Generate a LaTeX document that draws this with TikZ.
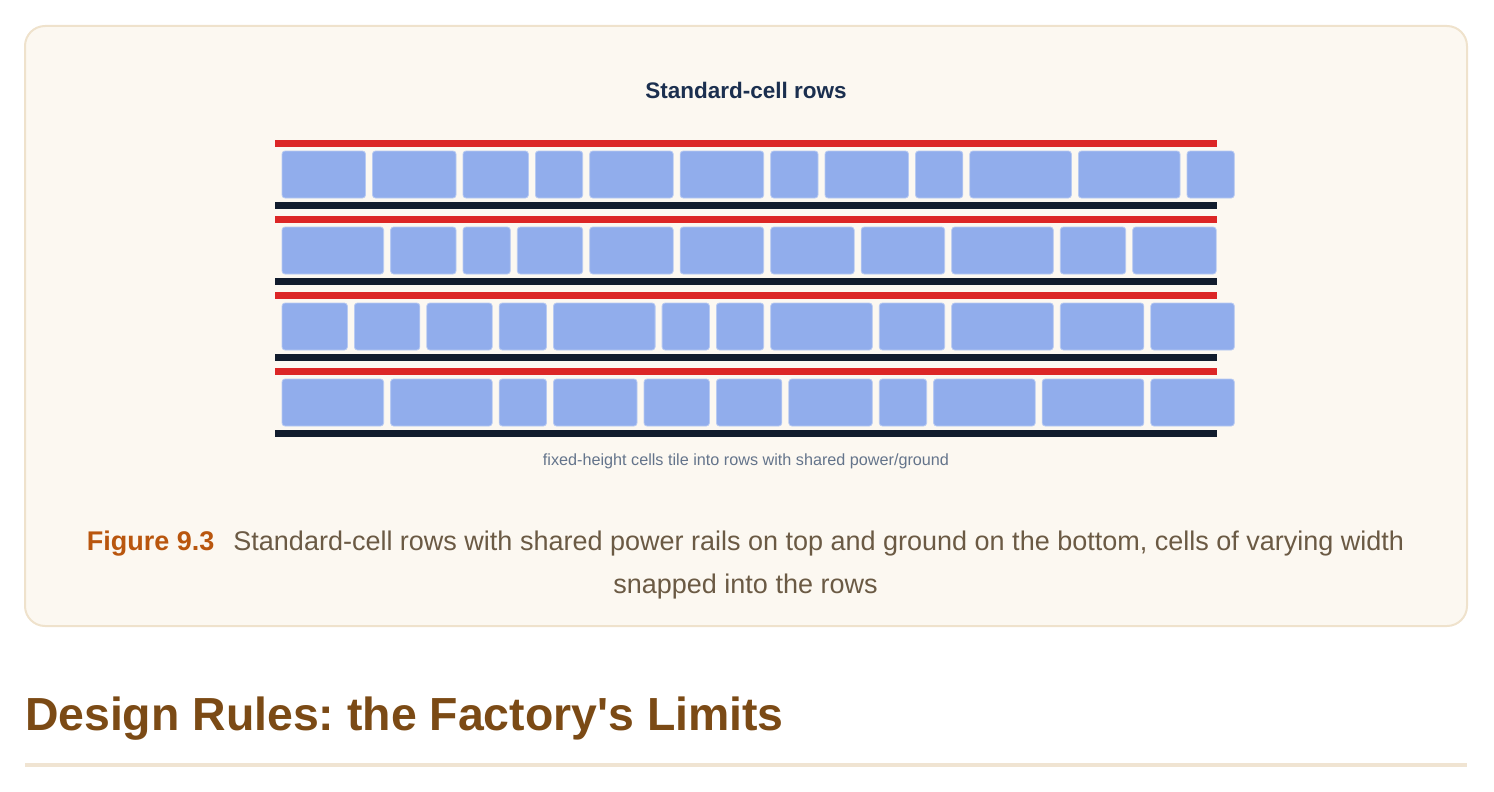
\documentclass[tikz,border=0pt]{standalone}
\usepackage{fontspec}
\setmainfont{Liberation Sans}[Ligatures=TeXOff]

\definecolor{cardfill}{HTML}{FCF8F1}
\definecolor{cardline}{HTML}{EFE2CC}
\definecolor{vddred}{HTML}{DC2626}
\definecolor{gndnavy}{HTML}{111C2D}
\definecolor{cellblue}{HTML}{91ADEC}
\definecolor{celledge}{HTML}{B8CAF2}
\definecolor{titlenavy}{HTML}{1B2F4F}
\definecolor{notegray}{HTML}{64748B}
\definecolor{figorange}{HTML}{B9560E}
\definecolor{captext}{HTML}{6B5A44}
\definecolor{headbrown}{HTML}{7B4A15}
\definecolor{rulebeige}{HTML}{F0E4D2}

\tikzset{
  card/.style={fill=cardfill, draw=cardline, line width=2pt, rounded corners=20pt},
  vddrail/.style={fill=vddred},
  gndrail/.style={fill=gndnavy},
  cell/.style={fill=cellblue, draw=celledge, line width=0.8pt, rounded corners=3pt},
  txt/.style={inner sep=0pt, outer sep=0pt}
}

\begin{document}
\frenchspacing
\begin{tikzpicture}[x=1pt, y=-1pt]
  \useasboundingbox (0,0) rectangle (1494,792);
  \draw[card] (25,26) rectangle (1467,626);

  \node[txt, anchor=base, text=titlenavy, font=\fontsize{22.5}{27}\selectfont\bfseries] (title) at (746,99) {Standard-cell rows};

  % power (top) and ground (bottom) rails of every row
  \foreach \r in {0,1,2,3} {
    \fill[vddrail] (275,{140+76*\r}) rectangle (1216.5,{147+76*\r});
    \fill[gndrail] (275,{202+76*\r}) rectangle (1216.5,{209+76*\r});
  }

  % cells, widths in sites
  \foreach \y/\ws in {151/{5,5,4,3,5,5,3,5,3,6,6,3},
                      227/{6,4,3,4,5,5,5,5,6,4,5},
                      303/{4,4,4,3,6,3,3,6,4,6,5,5},
                      379/{6,6,3,5,4,4,5,3,6,6,5}} {
    \gdef\cx{0}
    \foreach \w in \ws {
      \draw[cell] ({282+\cx*18.1},\y) rectangle +({\w*18.1-7},47);
      \pgfmathparse{\cx+\w}\xdef\cx{\pgfmathresult}
    }
  }

  \node[txt, anchor=base, text=notegray, font=\fontsize{16.2}{20}\selectfont] (note) at (746,465.5) {fixed-height cells tile into rows with shared power/ground};

  \node[txt, anchor=base, text=captext, font=\fontsize{27}{32}\selectfont] (cap1) at (745.5,550) {{\bfseries\color{figorange}Figure 9.3}\hspace{19pt}Standard-cell rows with shared power rails on top and ground on the bottom, cells of varying width};
  \node[txt, anchor=base, text=captext, font=\fontsize{27}{32}\selectfont] (cap2) at (745.5,593.5) {snapped into the rows};

  \node[txt, anchor=base west, text=headbrown, font=\fontsize{46.4}{56}\selectfont\bfseries] (heading) at (25,730.5) {Design Rules: the Factory's Limits};
  \fill[rulebeige] (25,763) rectangle (1467,767);
\end{tikzpicture}
\end{document}
